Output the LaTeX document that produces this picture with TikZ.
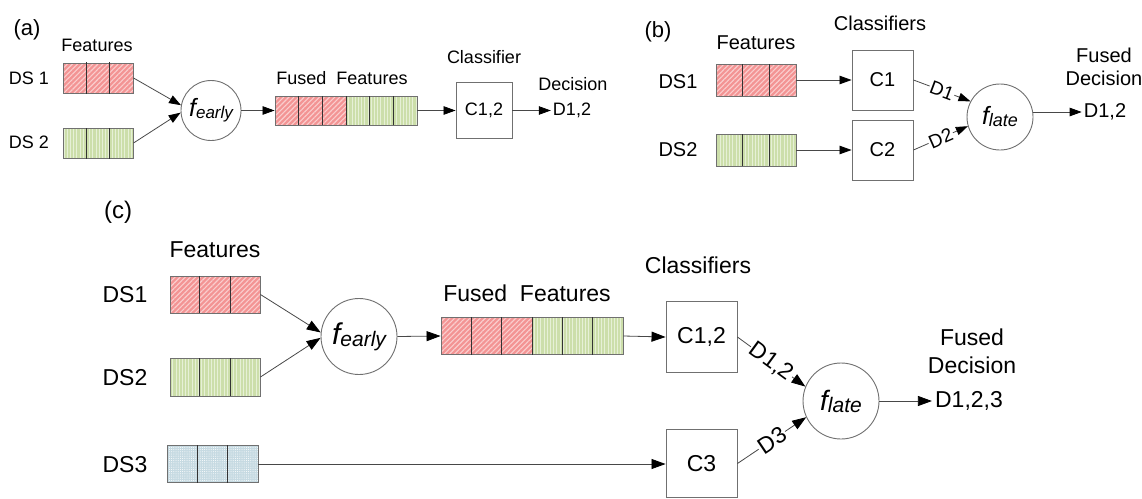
\documentclass[tikz,border=0pt]{standalone}
\usepackage{fontspec}
\setmainfont{Liberation Sans}
\usetikzlibrary{arrows.meta,patterns.meta,calc}

\definecolor{hatchred}{RGB}{243,148,148}
\definecolor{hatchredlt}{RGB}{250,206,206}
\definecolor{hatchgreen}{RGB}{204,222,170}
\definecolor{hatchgreenlt}{RGB}{230,240,214}
\definecolor{dotblue}{RGB}{198,218,226}
\definecolor{edge}{RGB}{112,112,112}
\definecolor{wire}{RGB}{72,72,72}

\newcommand\fsize[1]{\fontsize{#1}{#1}\selectfont}
% f with an italic subscript: #1 size of f, #2 size of subscript, #3 drop, #4 subscript
\newcommand\fusefn[4]{{\fsize{#1}\itshape f}\raisebox{-#3}{\fsize{#2}\itshape #4}}
% dark separators between the cells of a feature strip
\newcommand\splitcells[2]{%
  \foreach \k in {#2}{%
    \draw[cellline] ($(#1.south west)!\k!(#1.south east)$) -- ($(#1.north west)!\k!(#1.north east)$);}}

\tikzset{
  strip/.style={draw=edge, line width=0.9pt, inner sep=0, rectangle},
  redstrip/.style={strip, preaction={fill=hatchred},
    pattern={Lines[angle=45,distance=3.6pt,line width=1.1pt]}, pattern color=hatchredlt},
  greenstrip/.style={strip, preaction={fill=hatchgreen},
    pattern={Lines[angle=90,distance=3.2pt,line width=1pt]}, pattern color=hatchgreenlt},
  bluestrip/.style={strip, preaction={fill=dotblue},
    pattern={Dots[distance=2.2pt,radius=0.5pt]}, pattern color=white},
  cellline/.style={draw=black!80, line width=0.8pt},
  clsbox/.style={draw=edge, line width=0.9pt, fill=white, inner sep=0, rectangle},
  fusecirc/.style={circle, draw=edge, line width=0.9pt, fill=white, inner sep=0},
  wirearrow/.style={draw=wire, line width=0.8pt, -{Triangle[length=12pt,width=8.5pt,color=black]}},
  wirebig/.style={draw=wire, line width=0.8pt, -{Triangle[length=14pt,width=10pt,color=black]}},
  txt/.style={inner sep=0, text=black},
  dlabel/.style={sloped, fill=white, inner sep=1pt, text=black},
}

\begin{document}
\begin{tikzpicture}[x=1pt,y=-1pt]
\useasboundingbox (0,0) rectangle (1142,498);

% ---------------- (a) early fusion ----------------
\node[txt, font=\fsize{22}] (pa) at (27,30) {(a)};
\node[txt, font=\fsize{18}] (fta) at (97,45) {Features};
\node[txt, font=\fsize{18}] (dsa1) at (29,78) {DS 1};
\node[txt, font=\fsize{18}] (dsa2) at (29,142) {DS 2};
\node[redstrip, minimum width=70, minimum height=30] (a1) at (98,78) {};
\node[greenstrip, minimum width=70, minimum height=30] (a2) at (98,143) {};
\splitcells{a1}{1/3,2/3}
\splitcells{a2}{1/3,2/3}
\node[fusecirc, minimum size=60] (fea) at (211,110.5) {\fusefn{25}{17}{0.2em}{early}};
\node[redstrip, minimum width=71, minimum height=29] (fa1) at (310.5,110.5) {};
\node[greenstrip, minimum width=71, minimum height=29] (fa2) at (381.5,110.5) {};
\splitcells{fa1}{1/3,2/3,1}
\splitcells{fa2}{1/3,2/3}
\node[txt, font=\fsize{18}] (ffa) at (342,78) {Fused\ \ Features};
\node[clsbox, minimum size=56, font=\fsize{18}] (ca) at (484,110.5) {C1,2};
\node[txt, font=\fsize{18}] (cla) at (484,57) {Classifier};
\node[txt, font=\fsize{18}] (dca) at (573,84) {Decision};
\node[txt, font=\fsize{18}, inner xsep=2pt] (da) at (572,110.5) {D1,2};
\draw[wirearrow] (a1.east) -- (fea.170);
\draw[wirearrow] (a2.east) -- (fea.184);
\draw[wirearrow] (fea.east) -- (fa1.west);
\draw[wirearrow] (fa2.east) -- (ca.west);
\draw[wirearrow] (ca.east) -- (da.west);

% ---------------- (b) late fusion ----------------
\node[txt, font=\fsize{22}] (pb) at (658,32) {(b)};
\node[txt, font=\fsize{20}] (ftb) at (756,43) {Features};
\node[txt, font=\fsize{20}] (clb) at (880,23) {Classifiers};
\node[txt, font=\fsize{20}] (dsb1) at (678,82) {DS1};
\node[txt, font=\fsize{20}] (dsb2) at (678,150) {DS2};
\node[redstrip, minimum width=80, minimum height=32] (b1) at (756,80) {};
\node[greenstrip, minimum width=80, minimum height=32] (b2) at (756,150) {};
\splitcells{b1}{1/3,2/3}
\splitcells{b2}{1/3,2/3}
\node[clsbox, minimum width=61, minimum height=60, font=\fsize{20}] (cb1) at (882.5,80) {C1};
\node[clsbox, minimum width=61, minimum height=60, font=\fsize{20}] (cb2) at (882.5,150) {C2};
\node[fusecirc, minimum size=66] (flb) at (1000,117) {\fusefn{25}{18}{0.2em}{late}};
\node[txt, font=\fsize{20}] (fdb1) at (1104,55) {Fused};
\node[txt, font=\fsize{20}] (fdb2) at (1104,78) {Decision};
\node[txt, font=\fsize{20}, inner xsep=2pt] (db) at (1105,112) {D1,2};
\draw[wirearrow] (b1.east) -- (cb1.west);
\draw[wirearrow] (b2.east) -- (cb2.west);
\draw[wirearrow] (cb1.east) -- node[dlabel, font=\fsize{19}] {D1} (flb.152);
\draw[wirearrow] (cb2.east) -- node[dlabel, font=\fsize{19}] {D2} (flb.196);
\draw[wirearrow] (flb.east |- db.west) -- (db.west);

% ---------------- (c) hybrid fusion ----------------
\node[txt, font=\fsize{24}] (pc) at (118,212) {(c)};
\node[txt, font=\fsize{23}] (ftc) at (215,250) {Features};
\node[txt, font=\fsize{23}] (dsc1) at (125,295) {DS1};
\node[txt, font=\fsize{23}] (dsc2) at (125,378) {DS2};
\node[txt, font=\fsize{23}] (dsc3) at (125,465) {DS3};
\node[redstrip, minimum width=90, minimum height=37] (c1) at (215,294.5) {};
\node[greenstrip, minimum width=90, minimum height=38] (c2) at (215,377) {};
\node[bluestrip, minimum width=91, minimum height=37] (c3) at (212.5,464) {};
\splitcells{c1}{1/3,2/3}
\splitcells{c2}{1/3,2/3}
\splitcells{c3}{1/3,2/3}
\node[fusecirc, minimum size=76] (fec) at (359,336.5) {\fusefn{30}{21}{0.2em}{early}};
\node[redstrip, minimum width=91, minimum height=37] (fc1) at (486.5,336) {};
\node[greenstrip, minimum width=91, minimum height=37] (fc2) at (577.5,336) {};
\splitcells{fc1}{1/3,2/3,1}
\splitcells{fc2}{1/3,2/3}
\node[txt, font=\fsize{23}] (ffc) at (527,293) {Fused\ \ Features};
\node[txt, font=\fsize{23}] (clc) at (698,265) {Classifiers};
\node[clsbox, minimum size=71, font=\fsize{23}] (cc12) at (701.5,337) {C1,2};
\node[clsbox, minimum width=71, minimum height=68, font=\fsize{23}] (cc3) at (701.5,463.5) {C3};
\node[fusecirc, minimum size=76] (flc) at (841,401) {\fusefn{28}{21}{0.2em}{late}};
\node[txt, font=\fsize{23}] (fdc1) at (972,337) {Fused};
\node[txt, font=\fsize{23}] (fdc2) at (972,365) {Decision};
\node[txt, font=\fsize{23}, inner xsep=3pt] (dc) at (969,401) {D1,2,3};
\draw[wirebig] (c1.east) -- (fec.174);
\draw[wirebig] (c2.east) -- (fec.182);
\draw[wirebig] (fec.east) -- (fc1.west);
\draw[wirebig] (fc2.east) -- (cc12.west);
\draw[wirebig] (c3.east) -- (cc3.west |- c3.east);
\draw[wirebig] (cc12.east) -- node[dlabel, font=\fsize{23}] {D1,2} (flc.158);
\draw[wirebig] (cc3.east) -- node[dlabel, font=\fsize{23}] {D3} (flc.205);
\draw[wirebig] (flc.east) -- (dc.west);
\end{tikzpicture}
\end{document}
